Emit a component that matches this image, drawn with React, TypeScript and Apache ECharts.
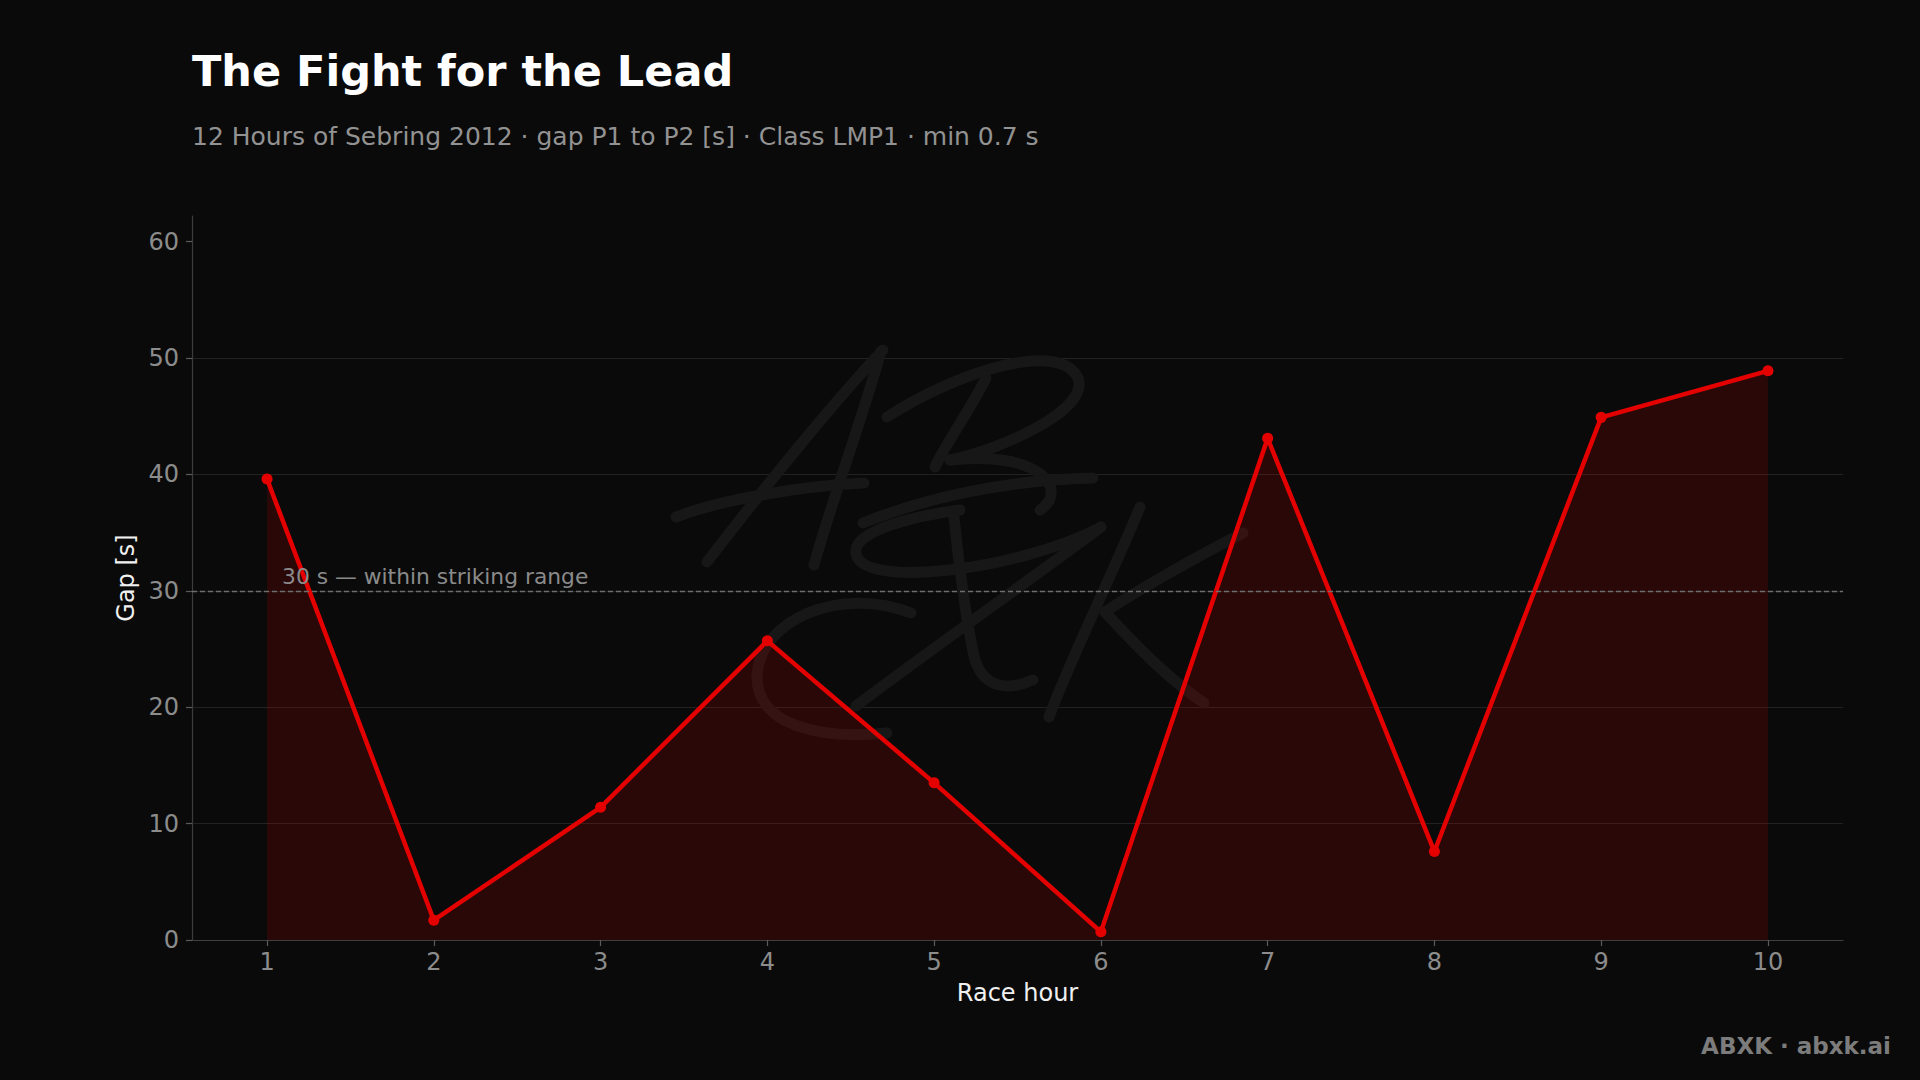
import React, { useEffect, useRef } from "react";
import * as echarts from "echarts";

// ---- data ----
const hours = [1, 2, 3, 4, 5, 6, 7, 8, 9, 10];
const gaps = [39.6, 1.7, 11.4, 25.7, 13.5, 0.7, 43.1, 7.6, 44.9, 48.9];
const yTicks = [0, 10, 20, 30, 40, 50, 60];
const threshold = 30;
const thresholdLabel = "30 s — within striking range";
const thresholdLabelHour = 1.09;
const titleText = "The Fight for the Lead";
const subtitleText =
  "12 Hours of Sebring 2012 · gap P1 to P2 [s] · Class LMP1 · min 0.7 s";
const footerText = "ABXK · abxk.ai";
const xName = "Race hour";
const yName = "Gap [s]";

const FONT = "DejaVu Sans";

// decorative watermark strokes (script "AB / XK")
type Seg = [number, number, number, number, number, number, number, number];
const watermark: Seg[] = [
  [707, 562, 770, 480, 840, 395, 883, 350],
  [881, 351, 862, 420, 832, 500, 814, 565],
  [676, 517, 720, 500, 800, 486, 864, 483],
  [986, 378, 970, 410, 945, 445, 935, 467],
  [887, 417, 960, 370, 1060, 340, 1078, 378],
  [1078, 378, 1090, 410, 1000, 450, 950, 460],
  [950, 460, 1040, 450, 1070, 490, 1040, 510],
  [1093, 478, 1000, 480, 920, 500, 863, 523],
  [1101, 527, 1020, 570, 860, 590, 856, 553],
  [856, 553, 852, 530, 920, 515, 960, 510],
  [1101, 527, 1030, 580, 930, 650, 856, 706],
  [954, 517, 960, 580, 970, 640, 975, 660],
  [975, 660, 985, 690, 1010, 690, 1033, 680],
  [911, 613, 840, 585, 760, 620, 757, 675],
  [757, 675, 755, 725, 820, 740, 887, 733],
  [1140, 507, 1110, 580, 1070, 660, 1049, 717],
  [1243, 533, 1190, 560, 1130, 595, 1105, 612],
  [1105, 612, 1140, 650, 1170, 680, 1204, 703],
];

export default function App() {
  const ref = useRef<HTMLDivElement>(null);

  useEffect(() => {
    document.body.style.margin = "0";
    const chart = echarts.init(ref.current!, null, { renderer: "svg" });

    const wmElements = watermark.map((s, i) => ({
      type: "bezierCurve",
      id: "wm" + i,
      silent: true,
      z: 1,
      shape: {
        x1: s[0], y1: s[1], cpx1: s[2], cpy1: s[3],
        cpx2: s[4], cpy2: s[5], x2: s[6], y2: s[7],
      },
      style: { stroke: "#171717", lineWidth: 11, lineCap: "round", fill: null },
    }));

    const option: any = {
      animation: false,
      backgroundColor: "#0a0a0a",
      textStyle: { fontFamily: FONT },
      title: [
        {
          text: titleText,
          left: 192,
          top: 49,
          padding: 0,
          textStyle: { color: "#ffffff", fontSize: 43, fontWeight: "bold", fontFamily: FONT },
        },
        {
          text: subtitleText,
          left: 192,
          top: 124,
          padding: 0,
          textStyle: { color: "#929292", fontSize: 25, fontWeight: "normal", fontFamily: FONT },
        },
      ],
      grid: { left: 192, right: 77, top: 216, bottom: 140, containLabel: false },
      xAxis: {
        type: "value",
        min: 0.55,
        max: 10.45,
        name: xName,
        nameLocation: "middle",
        nameGap: 41,
        nameTextStyle: { color: "#f0f0f0", fontSize: 24, fontFamily: FONT },
        axisLine: { show: true, lineStyle: { color: "#404040", width: 1.2 } },
        axisTick: { show: true, customValues: hours, length: 6, lineStyle: { color: "#5a5a5a", width: 1.2 } },
        axisLabel: { customValues: hours, color: "#8c8c8c", fontSize: 24, margin: 10, fontFamily: FONT },
        splitLine: { show: false },
      },
      yAxis: {
        type: "value",
        min: 0,
        max: 62.2,
        interval: 10,
        name: yName,
        nameLocation: "middle",
        nameGap: 52,
        nameTextStyle: { color: "#f0f0f0", fontSize: 24, fontFamily: FONT },
        axisLine: { show: true, lineStyle: { color: "#3c3c3c", width: 1.2 } },
        axisTick: { show: true, customValues: yTicks, length: 6, lineStyle: { color: "#5a5a5a", width: 1.2 } },
        axisLabel: { customValues: yTicks, color: "#8c8c8c", fontSize: 24, margin: 13, fontFamily: FONT },
        splitLine: {
          show: true,
          showMinLine: false,
          showMaxLine: false,
          lineStyle: { color: "#222222", width: 1 },
        },
      },
      series: [
        {
          type: "line",
          data: hours.map((h, i) => [h, gaps[i]]),
          symbol: "circle",
          symbolSize: 11,
          lineStyle: { color: "#e50000", width: 4.5 },
          itemStyle: { color: "#e50000" },
          areaStyle: { color: "rgba(225,0,0,0.15)", opacity: 1 },
          z: 3,
          markLine: {
            silent: true,
            symbol: ["none", "none"],
            label: { show: false },
            lineStyle: { type: [5, 3], color: "#6e6e6e", width: 1.4 },
            emphasis: { disabled: true },
            data: [{ yAxis: threshold }],
          },
        },
      ],
      graphic: {
        elements: [
          ...wmElements,
          {
            type: "text",
            id: "footer",
            right: 29,
            top: 1034,
            silent: true,
            style: {
              text: footerText,
              fill: "#7c7c7c",
              font: `bold 23px "${FONT}"`,
            },
          },
        ],
      },
    };

    chart.setOption(option);

    const p = chart.convertToPixel({ gridIndex: 0 }, [thresholdLabelHour, threshold]) as number[];
    chart.setOption({
      graphic: {
        elements: [
          {
            type: "text",
            id: "thrLabel",
            x: p[0],
            y: p[1] - 3,
            silent: true,
            z: 5,
            style: {
              text: thresholdLabel,
              fill: "#8a8a8a",
              font: `21.8px "${FONT}"`,
              align: "left",
              verticalAlign: "bottom",
            },
          },
        ],
      },
    });

    return () => chart.dispose();
  }, []);

  return (
    <div
      ref={ref}
      style={{ width: 1920, height: 1080, position: "fixed", left: 0, top: 0 }}
    />
  );
}
